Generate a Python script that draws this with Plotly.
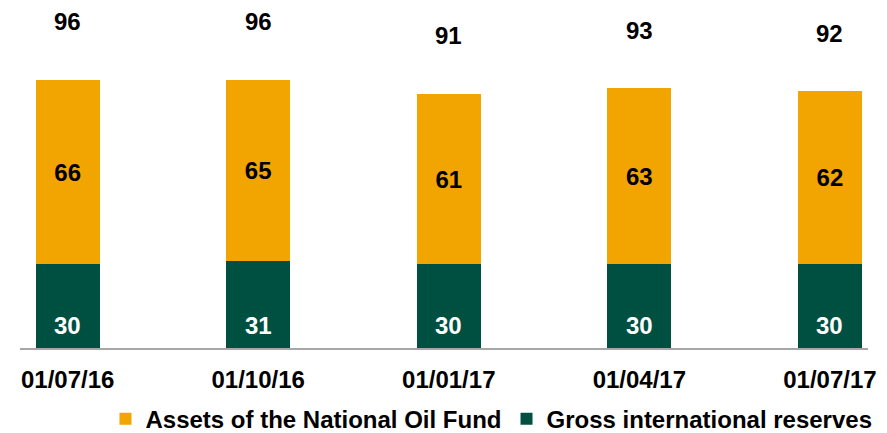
import plotly.graph_objects as go

dates = ["01/07/16", "01/10/16", "01/01/17", "01/04/17", "01/07/17"]
reserves = [30, 31, 30, 30, 30]
oil_fund = [66, 65, 61, 63, 62]
totals = [96, 96, 91, 93, 92]

GREEN = "#005042"
ORANGE = "#F2A400"
FONT = "Liberation Sans, Arial, sans-serif"

fig = go.Figure()
fig.add_trace(go.Bar(
    x=dates, y=reserves, name="Gross international reserves",
    marker=dict(color=GREEN, line=dict(width=0)),
    hoverinfo="skip",
))
fig.add_trace(go.Bar(
    x=dates, y=oil_fund, name="Assets of the National Oil Fund",
    marker=dict(color=ORANGE, line=dict(width=0)),
    text=[str(v) for v in oil_fund], textposition="inside",
    insidetextanchor="middle",
    textfont=dict(family=FONT, size=24, color="black", weight="bold"),
    hoverinfo="skip",
))

annotations = []
for d, r, t in zip(dates, reserves, totals):
    annotations.append(dict(x=d, y=0, xref="x", yref="y", text="<b>%d</b>" % r,
                            showarrow=False, yanchor="middle", yshift=23,
                            font=dict(family=FONT, size=24, color="white")))
    annotations.append(dict(x=d, y=t, xref="x", yref="y", text="<b>%d</b>" % t,
                            showarrow=False, yanchor="middle", yshift=58,
                            font=dict(family=FONT, size=24, color="black")))

fig.update_layout(
    width=887, height=433,
    margin=dict(l=20, r=19, t=10, b=85, autoexpand=False),
    barmode="stack", bargap=0.664,
    plot_bgcolor="white", paper_bgcolor="white",
    font=dict(family=FONT, color="black"),
    showlegend=True,
    legend=dict(orientation="h", x=0.556, xanchor="center",
                yref="container", y=0.032, yanchor="middle",
                traceorder="reversed",
                font=dict(family=FONT, size=24, color="black", weight="bold"),
                itemwidth=30, tracegroupgap=0),
    annotations=annotations,
    xaxis=dict(type="category", range=[-0.25, 4.2], showgrid=False,
               showline=True, linecolor="#A6A6A6", linewidth=2,
               ticks="", ticklabelstandoff=9,
               tickfont=dict(family=FONT, size=24, color="black", weight="bold")),
    yaxis=dict(range=[0, 121], visible=False, showgrid=False, zeroline=False),
)

fig.write_html(
    "out.html",
    config={"displayModeBar": False},
    post_script="document.body.style.margin='0';document.body.style.overflow='hidden';",
)
